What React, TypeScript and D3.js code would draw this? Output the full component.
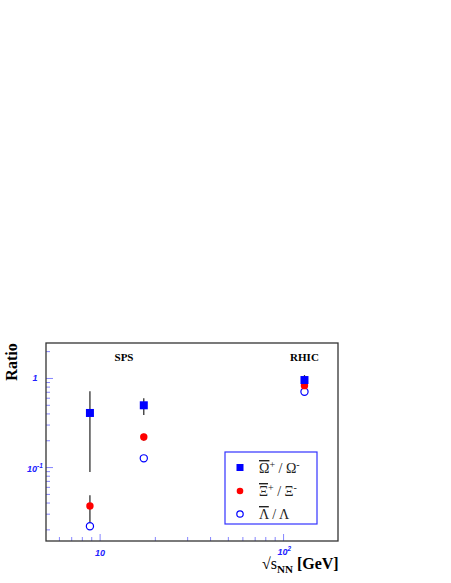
import * as d3 from 'd3';

// energies (GeV)
const energies = [8.8, 17.3, 130];
const omegaRatio = [0.41, 0.5, 0.96];
const omegaErrLo = [0.089, 0.39, 0.88];
const omegaErrHi = [0.72, 0.6, 1.09];
const xiRatio = [0.037, 0.22, 0.83];
const xiErrLo = [0.0245, 0.2, 0.8];
const xiErrHi = [0.049, 0.24, 0.86];
const lambdaRatio = [0.022, 0.127, 0.71];
const regionLabels = ['SPS', 'RHIC'];
const regionX = [13.5, 130];

const W = 451;
const H = 583;
const left = 46, right = 338, top = 343, bottom = 541;

const App = () => {
  const x = d3.scaleLog().domain([5.07, 198]).range([left, right]);
  const y = d3.scaleLog().domain([0.015, 2.5]).range([bottom, top]);
  const tickCol = '#8585ff';
  const labCol = '#2020ff';

  const xMinor: number[] = [];
  for (let d = 1; d <= 100; d *= 10)
    for (let k = 1; k < 10; k++) {
      const v = k * d;
      if (v >= 5.07 && v <= 198) xMinor.push(v);
    }
  const yMinor: number[] = [];
  for (let d = 0.01; d <= 1.01; d *= 10)
    for (let k = 1; k < 10; k++) {
      const v = k * d;
      if (v >= 0.015 && v <= 2.5) yMinor.push(v);
    }
  const isMajor = (v: number) => Math.abs(Math.log10(v) - Math.round(Math.log10(v))) < 1e-6;

  return (
    <svg width={W} height={H} style={{ position: 'absolute', left: 0, top: 0 }} fontFamily="'Liberation Serif', serif">
      <rect x={0} y={0} width={W} height={H} fill="white" />
      {/* ticks */}
      {xMinor.map((v, i) => (
        <line key={'xt' + i} x1={x(v)} x2={x(v)} y1={bottom} y2={bottom - (isMajor(v) ? 7 : 4)} stroke={tickCol} strokeWidth={1} />
      ))}
      {yMinor.map((v, i) => (
        <line key={'yt' + i} x1={left} x2={left + (isMajor(v) ? 7 : 4)} y1={y(v)} y2={y(v)} stroke={tickCol} strokeWidth={1} />
      ))}
      <rect x={left} y={top} width={right - left} height={bottom - top} fill="none" stroke="#333" strokeWidth={1.3} />
      {/* tick labels */}
      <g fill={labCol} fontFamily="'Liberation Sans', sans-serif" fontStyle="italic" fontWeight="bold" fontSize={9}>
        <text x={35} y={y(1) + 3} textAnchor="middle">1</text>
        <text x={27} y={y(0.1) + 4} textAnchor="start">10<tspan dy={-4} fontSize={6.5}>-1</tspan></text>
        <text x={x(10)} y={bottom + 15} textAnchor="middle">10</text>
        <text x={x(100) - 6} y={bottom + 14}>10<tspan dy={-4} fontSize={6.5}>2</tspan></text>
      </g>
      {/* region labels */}
      {regionLabels.map((l, i) => (
        <text key={l} x={x(regionX[i])} y={361} textAnchor="middle" fontWeight="bold" fontSize={11}>{l}</text>
      ))}
      {/* error bars */}
      {energies.map((e, i) => (
        <g key={'eb' + i} stroke="#222" strokeWidth={1.2}>
          <line x1={x(e)} x2={x(e)} y1={y(omegaErrLo[i])} y2={y(omegaErrHi[i])} />
          <line x1={x(e)} x2={x(e)} y1={y(xiErrLo[i])} y2={y(xiErrHi[i])} />
        </g>
      ))}
      {energies.map((e, i) => (
        <circle key={'l' + i} cx={x(e)} cy={y(lambdaRatio[i])} r={3.6} fill="white" stroke="#0000ff" strokeWidth={1.2} />
      ))}
      {energies.map((e, i) => (
        <circle key={'x' + i} cx={x(e)} cy={y(xiRatio[i])} r={3.7} fill="#ff0000" />
      ))}
      {energies.map((e, i) => (
        <rect key={'o' + i} x={x(e) - 4} y={y(omegaRatio[i]) - 4} width={8} height={8} fill="#0000ff" />
      ))}
      {/* legend */}
      <rect x={225} y={452} width={92} height={72} fill="white" stroke="#3333ff" strokeWidth={1.2} />
      <rect x={236.5} y={464} width={7} height={7} fill="#0000ff" />
      <circle cx={240} cy={491} r={3.3} fill="#ff0000" />
      <circle cx={240} cy={514} r={3.2} fill="white" stroke="#0000ff" strokeWidth={1.2} />
      <g fontSize={14} fill="#222">
        <text x={259} y={473}><tspan textDecoration="overline">Ω</tspan><tspan dy={-5} fontSize={10}>+</tspan><tspan dy={5}> / Ω</tspan><tspan dy={-5} fontSize={10}>-</tspan></text>
        <text x={259} y={496}><tspan textDecoration="overline">Ξ</tspan><tspan dy={-5} fontSize={10}>+</tspan><tspan dy={5}> / Ξ</tspan><tspan dy={-5} fontSize={10}>-</tspan></text>
        <text x={259} y={519}><tspan textDecoration="overline">Λ</tspan> / Λ</text>
      </g>
      {/* axis titles */}
      <text transform={`translate(17,362) rotate(-90)`} textAnchor="middle" fontWeight="bold" fontSize={16}>Ratio</text>
      <text x={262} y={569} fontSize={16}>√s<tspan dy={4} fontSize={11} fontWeight="bold">NN</tspan><tspan dy={-4} fontWeight="bold">  [GeV]</tspan></text>
    </svg>
  );
};

export default App;
